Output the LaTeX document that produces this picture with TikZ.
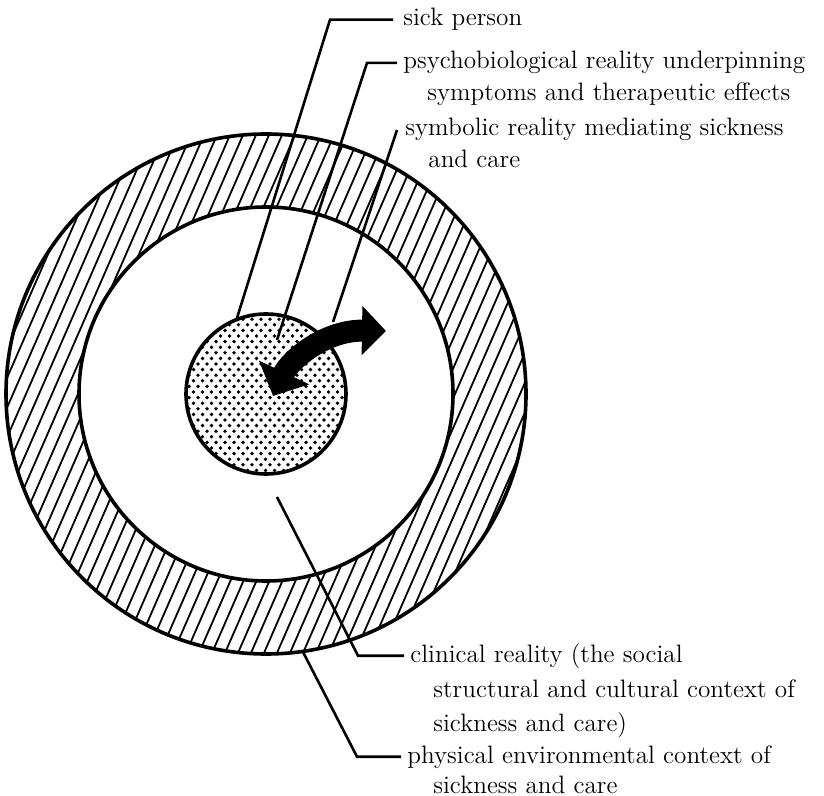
\documentclass[tikz,border=0pt]{standalone}
\usetikzlibrary{arrows.meta}
\begin{document}
\begin{tikzpicture}[x=0.5pt,y=-0.5pt,
  lbl/.style={font=\fontsize{12.6pt}{15pt}\selectfont, anchor=base west, inner sep=0pt},
  ring/.style={line width=1.8pt},
  leader/.style={line width=1.3pt},
  hatch/.style={line width=0.9pt},
  bigarrow/.style={line width=11pt, {Triangle[width=27pt,length=13pt]}-{Triangle[width=24pt,length=12pt]}}]
\useasboundingbox (0,0) rectangle (824,796);
\coordinate (C) at (266,394);
% hatched outer ring
\begin{scope}
  \clip (C) circle[radius=260];
  \foreach \x in {-130,-117,...,670}
    \draw[hatch] (\x-120,669) -- (\x+120,119);
\end{scope}
\fill[white] (C) circle[radius=187];
\draw[ring] (C) circle[radius=260];
\draw[ring] (C) circle[radius=187];
% dotted sick person
\begin{scope}
  \clip (C) circle[radius=80];
  \foreach \i in {0,...,31}
    \foreach \j in {0,...,19}
      \fill ({180+\j*9+mod(\i,2)*4.5},{308+\i*5.6}) circle[radius=1.9];
\end{scope}
\draw[ring] (C) circle[radius=80];
% labels
\node[lbl] (t1) at (403,26) {sick person};
\node[lbl] (t2) at (403,69) {psychobiological reality underpinning};
\node[lbl] (t2b) at (427,101) {symptoms and therapeutic effects};
\node[lbl] (t3) at (405,136) {symbolic reality mediating sickness};
\node[lbl] (t3b) at (428,168) {and care};
\node[lbl] (t4) at (410,662) {clinical reality (the social};
\node[lbl] (t4b) at (433,697) {structural and cultural context of};
\node[lbl] (t4c) at (433,731) {sickness and care)};
\node[lbl] (t5) at (407,763) {physical environmental context of};
\node[lbl] (t5b) at (433,793) {sickness and care};
% arrow
\coordinate (a1) at (273,396);
\coordinate (a2) at (290,360);
\coordinate (a3) at (325,330);
\coordinate (a4) at (386,331);
\draw[bigarrow] (a1) .. controls (a2) and (a3) .. (a4);
% leader lines
\coordinate (s1) at (237,318);
\coordinate (s2) at (277,340);
\coordinate (s3) at (333,322);
\coordinate (e3) at (397,130);
\coordinate (s4) at (277,497);
\coordinate (s5) at (303,652);
\draw[leader] (s1) -- (330,0 |- t1.west) -- ([xshift=-5pt]t1.west);
\draw[leader] (s2) -- (367,0 |- t2.west) -- ([xshift=-3pt]t2.west);
\draw[leader] (s3) -- (e3);
\draw[leader] (s4) -- (358,0 |- t4.west) -- ([xshift=-3pt]t4.west);
\draw[leader] (s5) -- (357,0 |- t5.west) -- ([xshift=-3pt]t5.west);
\end{tikzpicture}
\end{document}
